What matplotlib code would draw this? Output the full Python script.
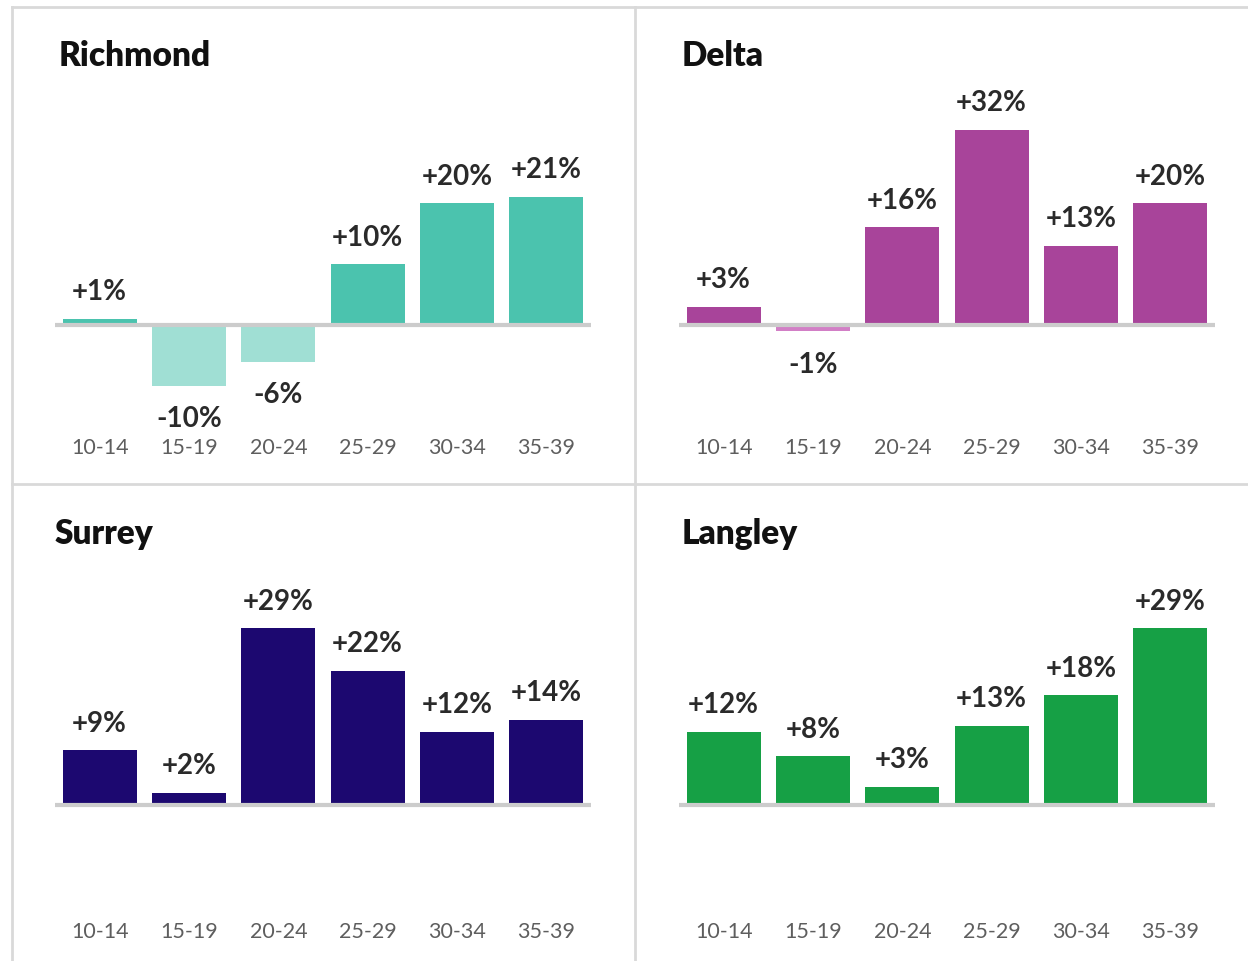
import matplotlib
matplotlib.use("Agg")
import matplotlib.pyplot as plt
from matplotlib.lines import Line2D

# Age groups and percentage change by municipality
age_groups = ["10-14", "15-19", "20-24", "25-29", "30-34", "35-39"]
richmond = [1, -10, -6, 10, 20, 21]
delta = [3, -1, 16, 32, 13, 20]
surrey = [9, 2, 29, 22, 12, 14]
langley = [12, 8, 3, 13, 18, 29]

panel_names = ["Richmond", "Delta", "Surrey", "Langley"]
panel_values = [richmond, delta, surrey, langley]
pos_colors = ["#4bc3ae", "#a8449a", "#1c0870", "#16a045"]
neg_colors = ["#a0dfd4", "#d27fc6", "#6e63a8", "#7fd09a"]

W, H = 1248, 962
DPI = 100
fig = plt.figure(figsize=(W / DPI, H / DPI), dpi=DPI)
fig.patch.set_facecolor("white")

plt.rcParams["font.family"] = ["Lato", "DejaVu Sans"]

PX_PER_PCT = 6.1  # vertical scale shared by all panels


def fx(px):
    return px / W


def fy(py):
    return 1 - py / H


# Panel frame lines
frame = "#d9d9d9"
for (x0, y0, x1, y1) in [(12, 8, W, 8), (12, 8, 12, H), (635, 8, 635, H), (12, 485, W, 485)]:
    fig.add_artist(Line2D([fx(x0), fx(x1)], [fy(y0), fy(y1)], color=frame, lw=2,
                          transform=fig.transFigure))

# Panel geometry in pixels: left, right, top, bottom, zero-line y, title x, title baseline y
layout = [
    (55, 591, 80, 430, 326, 59, 66),
    (679, 1215, 80, 430, 326, 682, 66),
    (55, 591, 560, 914, 806, 55, 544),
    (679, 1215, 560, 914, 806, 682, 544),
]

for name, vals, pc, nc, (l, r, t, b, z, tx, ty) in zip(panel_names, panel_values, pos_colors,
                                                      neg_colors, layout):
    ax = fig.add_axes([fx(l), fy(b), fx(r) - fx(l), fy(t) - fy(b)])
    ax.set_xlim(-0.5, len(age_groups) - 0.5)
    ax.set_ylim(-(b - z) / PX_PER_PCT, (z - t) / PX_PER_PCT)
    colors = [pc if v >= 0 else nc for v in vals]
    x = range(len(age_groups))
    ax.bar(x, vals, width=0.83, color=colors, zorder=2)
    ax.axhline(0, color="#cccccc", lw=3, zorder=3)
    for i, v in enumerate(vals):
        label = f"+{v}%" if v > 0 else f"{v}%"
        if v >= 0:
            ax.annotate(label, (i, v), xytext=(0, 14), textcoords="offset points",
                        ha="center", va="baseline", fontsize=20, fontweight="bold",
                        color="#2a2a2a")
        else:
            ax.annotate(label, (i, v), xytext=(0, -14), textcoords="offset points",
                        ha="center", va="top", fontsize=20, fontweight="bold",
                        color="#2a2a2a")
    ax.set_xticks(list(x), age_groups)
    ax.tick_params(axis="x", length=0, pad=6, labelsize=15.5, labelcolor="#5e5e5e")
    ax.set_yticks([])
    for s in ax.spines.values():
        s.set_visible(False)
    ax.patch.set_alpha(0)
    fig.text(fx(tx), fy(ty), name, fontsize=24, fontweight="heavy", color="#111111",
             ha="left", va="baseline")

fig.savefig("out.png", dpi=DPI, facecolor="white")
